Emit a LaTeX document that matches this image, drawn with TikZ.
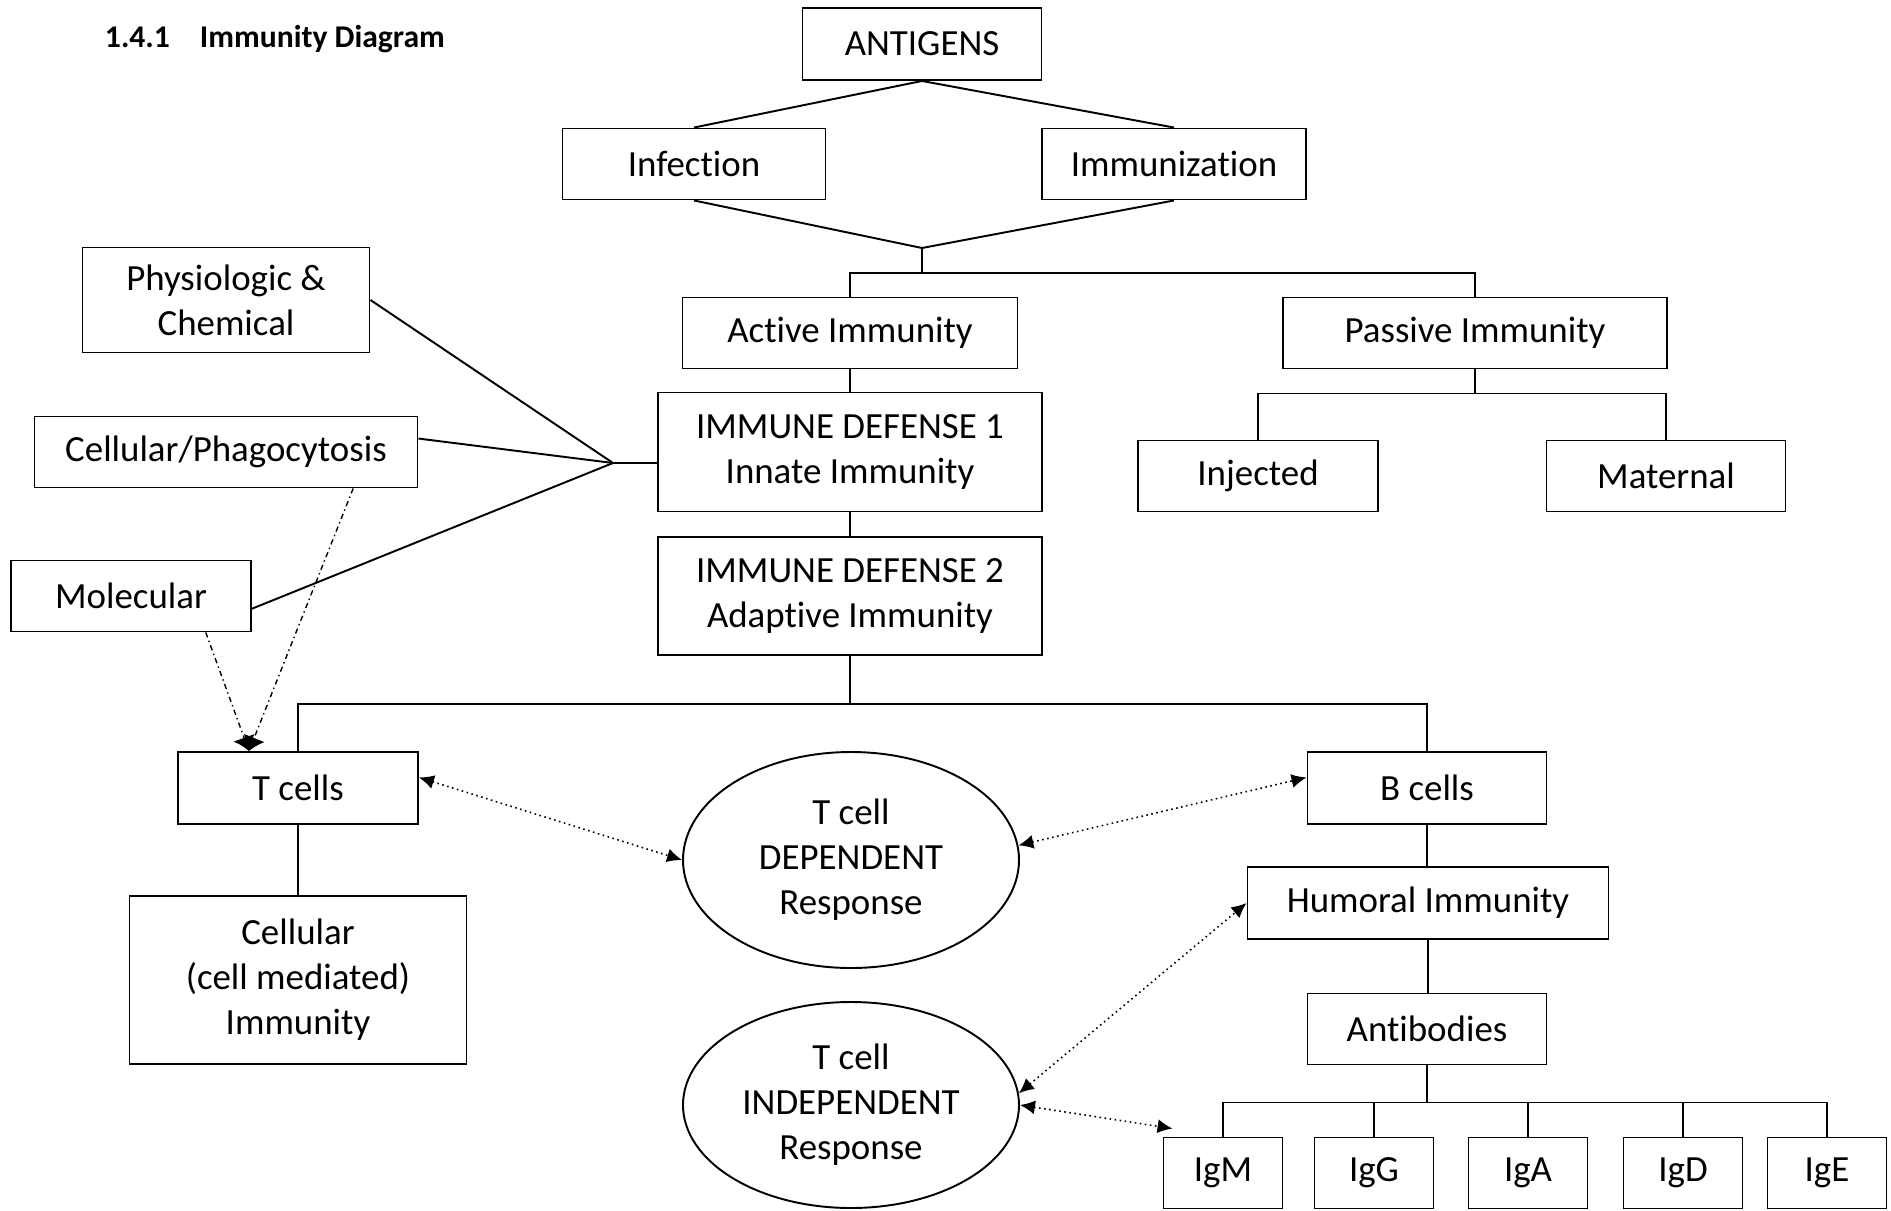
\documentclass[tikz,border=0pt]{standalone}
\usepackage{fontspec}
\setmainfont{Carlito}[Ligatures=NoCommon]
\usetikzlibrary{arrows.meta,shapes.geometric}
\newcommand{\boxfont}{\fontsize{21}{25.6}\selectfont}

\begin{document}
\begin{tikzpicture}[x=0.02cm, y=-0.02cm, line width=1.1pt,
  box/.style={draw, rectangle, align=center, inner sep=1pt, font=\boxfont},
  oval/.style={draw, ellipse, align=center, inner sep=0pt, font=\boxfont},
  size/.style 2 args={minimum width=#1*0.02cm, minimum height=#2*0.02cm},
  hint/.style={line width=0.8pt, dash dot, -{Latex[length=0.28cm,width=0.45cm]}},
  twoway/.style={line width=0.9pt, dotted, {Latex[length=0.3cm,width=0.28cm]}-{Latex[length=0.3cm,width=0.28cm]}}]
  \useasboundingbox (0,0) rectangle (1891,1211);
  % heading
  \node[anchor=base west, inner sep=0pt, font=\fontsize{18}{22}\selectfont\bfseries] (title) at (104,47) {1.4.1\hspace{0.6cm}Immunity Diagram};
  % antigens and their sources
  \node[box, size={239}{72}] (antigens) at (922,44) {ANTIGENS};
  \node[box, size={263}{71}] (infection) at (694,164) {Infection};
  \node[box, size={264}{71}] (immunization) at (1174,164) {Immunization};
  % active / passive
  \node[box, size={335}{71}] (active) at (850,333) {Active Immunity};
  \node[box, size={384}{71}] (passive) at (1475,333) {Passive Immunity};
  \node[box, size={240}{71}] (injected) at (1258,476) {Injected};
  \node[box, size={239}{71}] (maternal) at (1666,476) {Maternal};
  % the two defenses
  \node[box, size={384}{119}] (defense1) at (850,452) {IMMUNE DEFENSE 1\\Innate Immunity};
  \node[box, size={384}{118}] (defense2) at (850,596) {IMMUNE DEFENSE 2\\Adaptive Immunity};
  % innate parts
  \node[box, size={287}{105}] (physio) at (226,300) {Physiologic \&\\Chemical};
  \node[box, size={383}{71}] (phago) at (226,452) {Cellular/Phagocytosis};
  \node[box, size={240}{71}] (molecular) at (131,596) {Molecular};
  % adaptive parts
  \node[box, size={240}{72}] (tcells) at (298,788) {T cells};
  \node[box, size={239}{72}] (bcells) at (1427,788) {B cells};
  \node[box, size={337}{168}] (cellular) at (298,980) {Cellular\\(cell mediated)\\Immunity};
  \node[oval, size={336}{216}] (tdep) at (851,860) {T cell\\DEPENDENT\\Response};
  \node[oval, size={336}{206}] (tindep) at (851,1105) {T cell\\INDEPENDENT\\Response};
  \node[box, size={361}{72}] (humoral) at (1428,903) {Humoral Immunity};
  \node[box, size={239}{71}] (antibodies) at (1427,1029) {Antibodies};
  % immunoglobulins
  \foreach \name/\x in {IgM/1223, IgG/1374, IgA/1528, IgD/1683, IgE/1827}
    \node[box, size={119}{71}] (\name) at (\x,1173) {\name};

  % antigen branches
  \coordinate (merge) at (922,248);
  \draw (antigens.south) -- (infection.north);
  \draw (antigens.south) -- (immunization.north);
  \draw (infection.south) -- (merge);
  \draw (immunization.south) -- (merge);
  \draw (merge) -- ++(0,25) coordinate (split);
  \draw (active.north) |- (split) -| (passive.north);
  \draw (active) -- (defense1);
  \draw (defense1) -- (defense2);
  \draw (passive.south) -- ++(0,24) coordinate (pj);
  \draw (injected.north) |- (pj) -| (maternal.north);
  % innate fan
  \coordinate (fan) at (613,463);
  \draw (physio.east) -- (fan);
  \draw (phago.4) -- (fan);
  \draw (molecular.-6) -- (fan);
  \draw (fan) -- (fan -| defense1.west);
  % adaptive branches
  \draw (defense2.south) -- ++(0,48) coordinate (tb);
  \draw (tcells.north) |- (tb) -| (bcells.north);
  \draw (tcells) -- (cellular);
  \draw (bcells.south) -- (bcells.south |- humoral.north);
  \draw (humoral.south) -- (humoral.south |- antibodies.north);
  \draw (antibodies.south) -- ++(0,37) coordinate (ig);
  \draw (ig -| IgM.north) -- (ig -| IgE.north);
  \foreach \name in {IgM, IgG, IgA, IgD, IgE}
    \draw (ig -| \name.north) -- (\name.north);
  % dash-dot hints to T cells
  \draw[hint] (molecular.-26) -- (tcells.143);
  \draw[hint] (phago.-16) -- (tcells.143);
  % dotted two-way arrows
  \draw[twoway] (tcells.5) -- (tdep.west);
  \draw[twoway] (tdep.5) -- (bcells.175);
  \draw[twoway] (tindep.4) -- (humoral.west);
  \draw[twoway] (tindep.east) -- ([shift={(10,-8)}]IgM.north west);
\end{tikzpicture}
\end{document}
